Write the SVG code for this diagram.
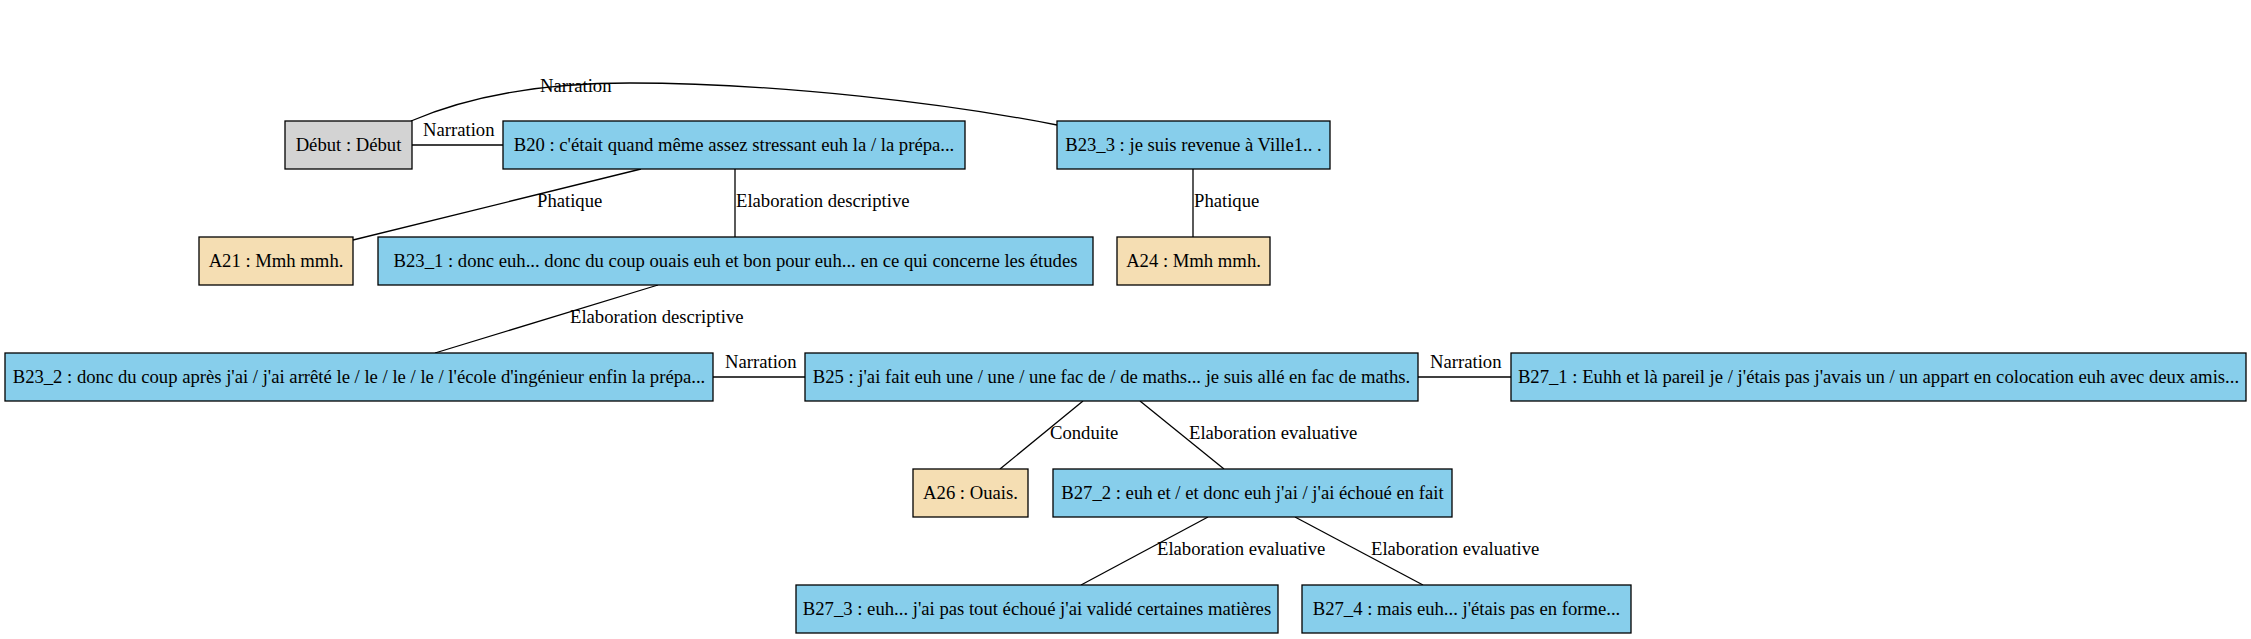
<svg xmlns="http://www.w3.org/2000/svg" width="2251" height="639" viewBox="0 0 2251 639">
<style>
  .box { stroke: #000; stroke-width: 1.3; }
  .blue { fill: #87ceeb; }
  .wheat { fill: #f5deb3; }
  .grey { fill: #d3d3d3; }
  text { font-family: "Liberation Serif", "Times New Roman", serif; font-size: 18.67px; fill: #000; }
  .nt { text-anchor: middle; }
  .edge { stroke: #000; stroke-width: 1.3; fill: none; }
</style>
<rect width="2251" height="639" fill="#fff"/>
<g id="connectors">
  <path class="edge" d="M411,121 C460,100 530,83 630,83 C780,83 950,104 1057,125"/>
  <text x="540" y="92">Narration</text>
  <line class="edge" x1="412" y1="145" x2="503" y2="145"/>
  <text x="423" y="136">Narration</text>
  <line class="edge" x1="641" y1="169" x2="353" y2="240"/>
  <text x="537" y="207">Phatique</text>
  <line class="edge" x1="735" y1="169" x2="735" y2="237"/>
  <text x="736" y="207">Elaboration descriptive</text>
  <line class="edge" x1="1193" y1="169" x2="1193" y2="237"/>
  <text x="1194" y="207">Phatique</text>
  <line class="edge" x1="658" y1="285" x2="435" y2="353"/>
  <text x="570" y="323">Elaboration descriptive</text>
  <line class="edge" x1="713" y1="377" x2="805" y2="377"/>
  <text x="725" y="368">Narration</text>
  <line class="edge" x1="1418" y1="377" x2="1511" y2="377"/>
  <text x="1430" y="368">Narration</text>
  <line class="edge" x1="1083" y1="401" x2="1000" y2="469"/>
  <text x="1050" y="439">Conduite</text>
  <line class="edge" x1="1140" y1="401" x2="1224" y2="469"/>
  <text x="1189" y="439">Elaboration evaluative</text>
  <line class="edge" x1="1208" y1="517" x2="1081" y2="585"/>
  <text x="1157" y="555">Elaboration evaluative</text>
  <line class="edge" x1="1295" y1="517" x2="1423" y2="585"/>
  <text x="1371" y="555">Elaboration evaluative</text>
</g>
<g id="debut">
  <rect class="box grey" x="285" y="121" width="127" height="48"/>
  <text class="nt" x="348.5" y="151">Début : Début</text>
</g>
<g id="B20">
  <rect class="box blue" x="503" y="121" width="462" height="48"/>
  <text class="nt" x="734" y="151">B20 : c'était quand même assez stressant euh la / la prépa...</text>
</g>
<g id="B23_3">
  <rect class="box blue" x="1057" y="121" width="273" height="48"/>
  <text class="nt" x="1193.5" y="151">B23_3 : je suis revenue à Ville1.. .</text>
</g>
<g id="A21">
  <rect class="box wheat" x="199" y="237" width="154" height="48"/>
  <text class="nt" x="276" y="267">A21 : Mmh mmh.</text>
</g>
<g id="B23_1">
  <rect class="box blue" x="378" y="237" width="715" height="48"/>
  <text class="nt" x="735.5" y="267">B23_1 : donc euh... donc du coup ouais euh et bon pour euh... en ce qui concerne les études</text>
</g>
<g id="A24">
  <rect class="box wheat" x="1117" y="237" width="153" height="48"/>
  <text class="nt" x="1193.5" y="267">A24 : Mmh mmh.</text>
</g>
<g id="B23_2">
  <rect class="box blue" x="5" y="353" width="708" height="48"/>
  <text class="nt" x="359" y="383">B23_2 : donc du coup après j'ai / j'ai arrêté le / le / le / le / l'école d'ingénieur enfin la prépa...</text>
</g>
<g id="B25">
  <rect class="box blue" x="805" y="353" width="613" height="48"/>
  <text class="nt" x="1111.5" y="383">B25 : j'ai fait euh une / une / une fac de / de maths... je suis allé en fac de maths.</text>
</g>
<g id="B27_1">
  <rect class="box blue" x="1511" y="353" width="735" height="48"/>
  <text class="nt" x="1878.5" y="383">B27_1 : Euhh et là pareil je / j'étais pas j'avais un / un appart en colocation euh avec deux amis...</text>
</g>
<g id="A26">
  <rect class="box wheat" x="913" y="469" width="115" height="48"/>
  <text class="nt" x="970.5" y="499">A26 : Ouais.</text>
</g>
<g id="B27_2">
  <rect class="box blue" x="1053" y="469" width="399" height="48"/>
  <text class="nt" x="1252.5" y="499">B27_2 : euh et / et donc euh j'ai / j'ai échoué en fait</text>
</g>
<g id="B27_3">
  <rect class="box blue" x="796" y="585" width="482" height="48"/>
  <text class="nt" x="1037" y="615">B27_3 : euh... j'ai pas tout échoué j'ai validé certaines matières</text>
</g>
<g id="B27_4">
  <rect class="box blue" x="1302" y="585" width="329" height="48"/>
  <text class="nt" x="1466.5" y="615">B27_4 : mais euh... j'étais pas en forme...</text>
</g>
</svg>
